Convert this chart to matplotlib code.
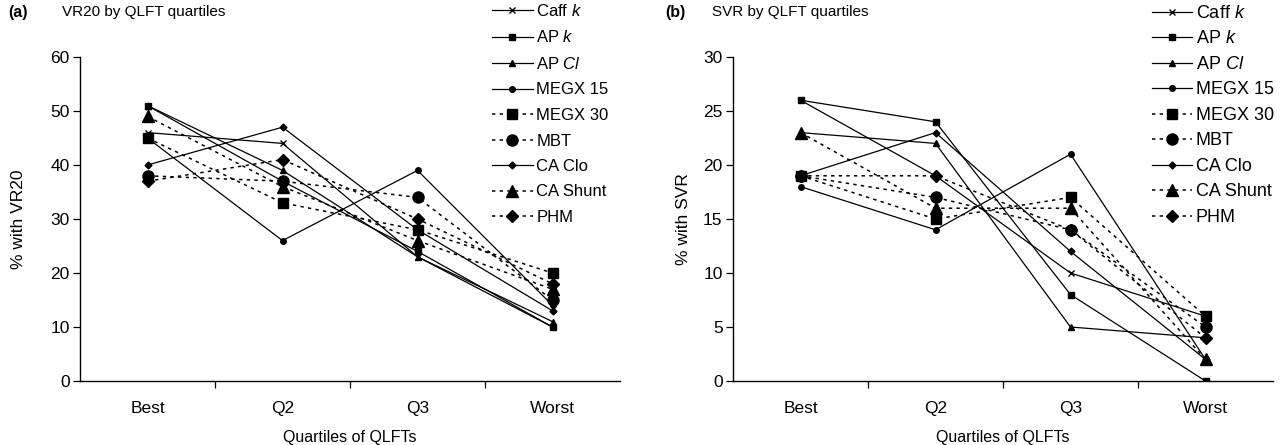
import matplotlib
matplotlib.use("Agg")
import matplotlib.pyplot as plt

plt.rcParams['font.family'] = ['Liberation Sans', 'DejaVu Sans']
plt.rcParams['mathtext.fontset'] = 'custom'
plt.rcParams['mathtext.rm'] = 'Liberation Sans'
plt.rcParams['mathtext.it'] = 'Liberation Sans:italic'

categories = ["Best", "Q2", "Q3", "Worst"]
series_names = ["Caff $k$", "AP $k$", "AP $Cl$", "MEGX 15", "MEGX 30",
                "MBT", "CA Clo", "CA Shunt", "PHM"]

# Panel (a): % with VR20
vr20_caff_k = [46, 44, 23, 10]
vr20_ap_k = [51, 37, 24, 10]
vr20_ap_cl = [51, 39, 23, 11]
vr20_megx15 = [45, 26, 39, 14]
vr20_megx30 = [45, 33, 28, 20]
vr20_mbt = [38, 37, 34, 15]
vr20_ca_clo = [40, 47, 28, 13]
vr20_ca_shunt = [49, 36, 26, 17]
vr20_phm = [37, 41, 30, 18]

# Panel (b): % with SVR
svr_caff_k = [26, 19, 10, 6]
svr_ap_k = [26, 24, 8, 0]
svr_ap_cl = [23, 22, 5, 4]
svr_megx15 = [18, 14, 21, 2]
svr_megx30 = [19, 15, 17, 6]
svr_mbt = [19, 17, 14, 5]
svr_ca_clo = [19, 23, 12, 2]
svr_ca_shunt = [23, 16, 16, 2]
svr_phm = [19, 19, 14, 4]

vr20 = [vr20_caff_k, vr20_ap_k, vr20_ap_cl, vr20_megx15, vr20_megx30,
        vr20_mbt, vr20_ca_clo, vr20_ca_shunt, vr20_phm]
svr = [svr_caff_k, svr_ap_k, svr_ap_cl, svr_megx15, svr_megx30,
       svr_mbt, svr_ca_clo, svr_ca_shunt, svr_phm]

dash = (0, (2.2, 2.8))
styles = [
    dict(ls='-', marker='x', ms=5, mew=1.0, lw=0.9),
    dict(ls='-', marker='s', ms=4, lw=0.9),
    dict(ls='-', marker='^', ms=4.5, lw=0.9),
    dict(ls='-', marker='o', ms=4, lw=0.9),
    dict(ls=dash, marker='s', ms=7.5, lw=1.1),
    dict(ls=dash, marker='o', ms=8, lw=1.1),
    dict(ls='-', marker='D', ms=3.5, lw=0.9),
    dict(ls=dash, marker='^', ms=8.5, lw=1.1),
    dict(ls=dash, marker='D', ms=6.5, lw=1.1),
]

W, H = 1282, 445
fig = plt.figure(figsize=(W / 100, H / 100), dpi=100)

def make_panel(left_px, data, ymax, ystep, ylabel, letter, title, letter_x,
               title_x, leg_x, leg_top, ylabel_x, tick_fs, leg_fs, hl, lsp):
    ax = fig.add_axes([left_px / W, 1 - 381 / H, 540 / W, (381 - 57) / H])
    x = list(range(len(categories)))
    for name, vals, st in zip(series_names, data, styles):
        ax.plot(x, vals, color='black', mfc='black', mec='black', label=name, **st)
    ax.set_xlim(-0.5, 3.5)
    ax.set_ylim(0, ymax)
    ax.set_yticks(range(0, ymax + 1, ystep))
    ax.set_xticks([0.5, 1.5, 2.5])
    ax.set_xticklabels([])
    ax.set_xticks(x, minor=True)
    ax.set_xticklabels(categories, minor=True)
    ax.tick_params(axis='x', which='minor', length=0, labelsize=tick_fs, pad=14.5)
    ax.tick_params(axis='x', which='major', length=5, width=0.9)
    ax.tick_params(axis='y', length=5, width=0.9, labelsize=tick_fs, pad=2.5)
    for s in ['top', 'right']:
        ax.spines[s].set_visible(False)
    for s in ['left', 'bottom']:
        ax.spines[s].set_linewidth(1.0)
    ax.set_xlabel("Quartiles of QLFTs", fontsize=11.5, labelpad=10)
    ax.set_ylabel(ylabel, fontsize=tick_fs)
    ax.yaxis.set_label_coords((ylabel_x - left_px) / 540, 0.5)
    fig.text(letter_x / W, 1 - 12 / H, letter, fontsize=11.5, fontweight='bold', va='center', ha='left')
    fig.text(title_x / W, 1 - 12 / H, title, fontsize=11, va='center', ha='left')
    ax.legend(loc='upper left', bbox_to_anchor=(leg_x / W, 1 - leg_top / H),
              bbox_transform=fig.transFigure, frameon=False, borderpad=0,
              borderaxespad=0, fontsize=leg_fs, handlelength=hl,
              handletextpad=0.22, labelspacing=lsp)
    return ax

make_panel(80, vr20, 60, 10, "% with VR20", "(a)", "VR20 by QLFT quartiles",
           8, 62, 492, 3, 26, 12.5, 12, 2.45, 0.63)
make_panel(733, svr, 30, 5, "% with SVR", "(b)", "SVR by QLFT quartiles",
           665, 712, 1152, 5, 691, 12.5, 13, 2.2, 0.47)

fig.savefig("out.png", dpi=100)
